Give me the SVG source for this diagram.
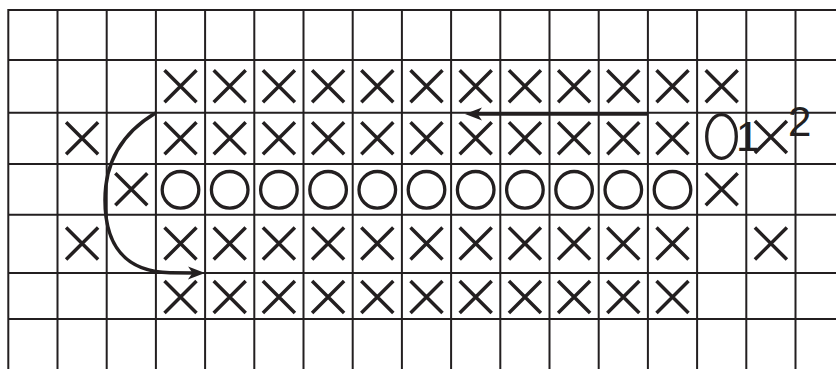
<svg xmlns="http://www.w3.org/2000/svg" width="836" height="369" viewBox="0 0 836 369">
<style>
.grid line{stroke:#231f20;stroke-width:2}
.mk{stroke:#231f20;stroke-width:3.5;fill:none}
.o{stroke:#231f20;stroke-width:3.3;fill:none}
.con{stroke:#231f20;stroke-width:3.5;fill:none}
.lbl{font-family:"Liberation Sans",Arial,sans-serif;font-size:42px;fill:#231f20}
</style>
<defs>
<path id="x" d="M-16,-16 L16,16 M16,-16 L-16,16" class="mk"/>
<circle id="o" r="18.3" class="o"/>
<marker id="ah" viewBox="-20 -9 22 18" markerWidth="22" markerHeight="18" refX="-10" refY="0" orient="auto" markerUnits="userSpaceOnUse">
<path d="M0,0 L-17,-6.5 L-12.5,0 L-17,6.5 Z" fill="#231f20"/>
</marker>
</defs>
<rect width="836" height="369" fill="#fff"/>
<g id="grid" class="grid">
<line x1="8.3" y1="10" x2="836" y2="10"/>
<line x1="8.3" y1="60" x2="836" y2="60"/>
<line x1="8.3" y1="112.7" x2="836" y2="112.7"/>
<line x1="8.3" y1="164" x2="836" y2="164"/>
<line x1="8.3" y1="214.7" x2="836" y2="214.7"/>
<line x1="8.3" y1="273" x2="836" y2="273"/>
<line x1="8.3" y1="319" x2="836" y2="319"/>
<line x1="8.3" y1="9" x2="8.3" y2="369"/>
<line x1="57.5" y1="9" x2="57.5" y2="369"/>
<line x1="106.7" y1="9" x2="106.7" y2="369"/>
<line x1="155.9" y1="9" x2="155.9" y2="369"/>
<line x1="205.1" y1="9" x2="205.1" y2="369"/>
<line x1="254.3" y1="9" x2="254.3" y2="369"/>
<line x1="303.5" y1="9" x2="303.5" y2="369"/>
<line x1="352.7" y1="9" x2="352.7" y2="369"/>
<line x1="401.9" y1="9" x2="401.9" y2="369"/>
<line x1="451.1" y1="9" x2="451.1" y2="369"/>
<line x1="500.3" y1="9" x2="500.3" y2="369"/>
<line x1="549.5" y1="9" x2="549.5" y2="369"/>
<line x1="598.7" y1="9" x2="598.7" y2="369"/>
<line x1="647.9" y1="9" x2="647.9" y2="369"/>
<line x1="697.1" y1="9" x2="697.1" y2="369"/>
<line x1="746.3" y1="9" x2="746.3" y2="369"/>
<line x1="795.5" y1="9" x2="795.5" y2="369"/>
</g>
<g id="row1">
<use href="#x" x="180.5" y="86.3"/><use href="#x" x="229.7" y="86.3"/><use href="#x" x="278.9" y="86.3"/><use href="#x" x="328.1" y="86.3"/><use href="#x" x="377.3" y="86.3"/><use href="#x" x="426.5" y="86.3"/><use href="#x" x="475.7" y="86.3"/><use href="#x" x="524.9" y="86.3"/><use href="#x" x="574.1" y="86.3"/><use href="#x" x="623.3" y="86.3"/><use href="#x" x="672.5" y="86.3"/><use href="#x" x="721.7" y="86.3"/>
</g>
<g id="row2">
<use href="#x" x="82.1" y="138.3"/>
<use href="#x" x="180.5" y="138.3"/><use href="#x" x="229.7" y="138.3"/><use href="#x" x="278.9" y="138.3"/><use href="#x" x="328.1" y="138.3"/><use href="#x" x="377.3" y="138.3"/><use href="#x" x="426.5" y="138.3"/><use href="#x" x="475.7" y="138.3"/><use href="#x" x="524.9" y="138.3"/><use href="#x" x="574.1" y="138.3"/><use href="#x" x="623.3" y="138.3"/><use href="#x" x="672.5" y="138.3"/>
<ellipse cx="721.5" cy="136.5" rx="14.8" ry="21.8" class="o"/>
<text x="736" y="151" class="lbl">1</text>
<use href="#x" x="770.9" y="137"/>
<text x="788" y="136" class="lbl">2</text>
</g>
<g id="row3">
<use href="#x" x="131.3" y="189.3"/>
<use href="#o" x="180.5" y="189.8"/><use href="#o" x="229.7" y="189.8"/><use href="#o" x="278.9" y="189.8"/><use href="#o" x="328.1" y="189.8"/><use href="#o" x="377.3" y="189.8"/><use href="#o" x="426.5" y="189.8"/><use href="#o" x="475.7" y="189.8"/><use href="#o" x="524.9" y="189.8"/><use href="#o" x="574.1" y="189.8"/><use href="#o" x="623.3" y="189.8"/><use href="#o" x="672.5" y="189.8"/>
<use href="#x" x="721.7" y="189.3"/>
</g>
<g id="row4">
<use href="#x" x="82.1" y="243.5"/>
<use href="#x" x="180.5" y="243.5"/><use href="#x" x="229.7" y="243.5"/><use href="#x" x="278.9" y="243.5"/><use href="#x" x="328.1" y="243.5"/><use href="#x" x="377.3" y="243.5"/><use href="#x" x="426.5" y="243.5"/><use href="#x" x="475.7" y="243.5"/><use href="#x" x="524.9" y="243.5"/><use href="#x" x="574.1" y="243.5"/><use href="#x" x="623.3" y="243.5"/><use href="#x" x="672.5" y="243.5"/>
<use href="#x" x="770.9" y="243.5"/>
</g>
<g id="row5">
<use href="#x" x="180.5" y="297"/><use href="#x" x="229.7" y="297"/><use href="#x" x="278.9" y="297"/><use href="#x" x="328.1" y="297"/><use href="#x" x="377.3" y="297"/><use href="#x" x="426.5" y="297"/><use href="#x" x="475.7" y="297"/><use href="#x" x="524.9" y="297"/><use href="#x" x="574.1" y="297"/><use href="#x" x="623.3" y="297"/><use href="#x" x="672.5" y="297"/>
</g>
<g id="connectors">
<path class="con" d="M648,114 L475,114" marker-end="url(#ah)"/>
<path class="con" d="M155.5,113 C122,133 105,162 105,200 C105,245 125,272 170,272.7 L195,273" marker-end="url(#ah)"/>
</g>
</svg>
